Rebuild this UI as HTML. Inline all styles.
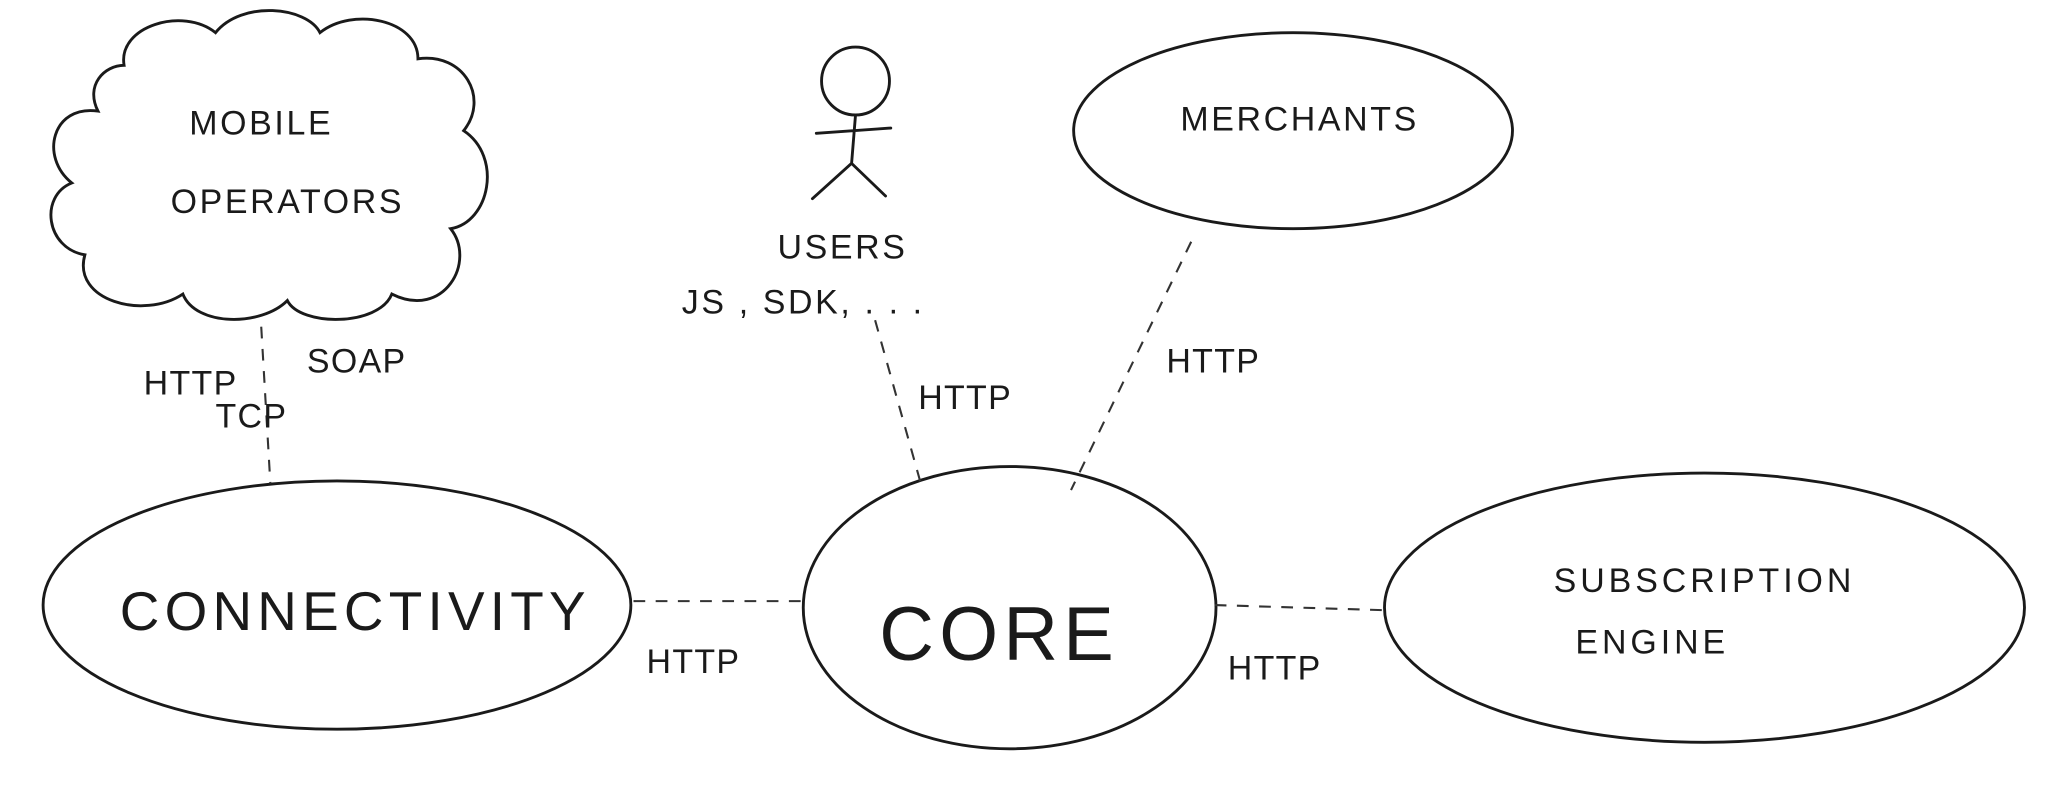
<!DOCTYPE html>
<html><head><meta charset="utf-8"><style>
html,body{margin:0;padding:0;background:#fff;}
svg{display:block}
text{font-family:"Liberation Sans",sans-serif;fill:#1a1a1a;}
</style></head><body>
<svg width="2048" height="788" viewBox="0 0 1568 603" preserveAspectRatio="none" xmlns="http://www.w3.org/2000/svg">
<rect width="1568" height="603" fill="#fff"/>
<g fill="none" stroke="#1a1a1a" stroke-width="2.2" stroke-linecap="round">
<path d="M95,50 C90,20 140,5 165,25 C185,0 235,5 245,25 C270,5 320,15 320,45 C355,40 375,75 355,100 C385,120 375,170 345,175 C365,200 340,245 300,225 C290,250 230,250 220,230 C200,250 150,250 140,225 C110,245 55,230 65,195 C35,190 30,150 55,140 C30,120 40,80 75,85 C65,65 80,50 95,50 Z"/>
<circle cx="655" cy="62" r="26"/>
<path d="M655,88 L652,125 M625,102 L682,98 M652,125 L622,152 M652,125 L678,150"/>
<ellipse cx="990" cy="100" rx="168" ry="75"/>
<ellipse cx="258" cy="463" rx="225" ry="95"/>
<ellipse cx="773" cy="465" rx="158" ry="108"/>
<ellipse cx="1305" cy="465" rx="245" ry="103"/>
</g>
<g fill="none" stroke="#333" stroke-width="1.6" stroke-dasharray="9,8">
<path d="M200,250 L207,370"/>
<path d="M670,245 L705,370"/>
<path d="M912,185 L820,375"/>
<path d="M485,460 L615,460"/>
<path d="M930,463 L1062,467"/>
</g>
<g font-size="26">
<text x="200" y="103" text-anchor="middle" letter-spacing="2">MOBILE</text>
<text x="220" y="163" text-anchor="middle" letter-spacing="2">OPERATORS</text>
<text x="645" y="198" text-anchor="middle" letter-spacing="2">USERS</text>
<text x="615" y="240" text-anchor="middle" letter-spacing="2">JS , SDK, . . .</text>
<text x="995" y="100" text-anchor="middle" letter-spacing="2">MERCHANTS</text>
<text x="110" y="302" letter-spacing="1">HTTP</text>
<text x="235" y="285" letter-spacing="1">SOAP</text>
<text x="165" y="327" letter-spacing="1">TCP</text>
<text x="703" y="313" letter-spacing="1">HTTP</text>
<text x="893" y="285" letter-spacing="1">HTTP</text>
<text x="495" y="515" letter-spacing="1">HTTP</text>
<text x="940" y="520" letter-spacing="1">HTTP</text>
<text x="1305" y="453" text-anchor="middle" letter-spacing="3">SUBSCRIPTION</text>
<text x="1265" y="500" text-anchor="middle" letter-spacing="3">ENGINE</text>
</g>
<text x="272" y="482" font-size="42" text-anchor="middle" letter-spacing="4">CONNECTIVITY</text>
<text x="765" y="505" font-size="58" text-anchor="middle" letter-spacing="4">CORE</text>
</svg>
</body></html>
